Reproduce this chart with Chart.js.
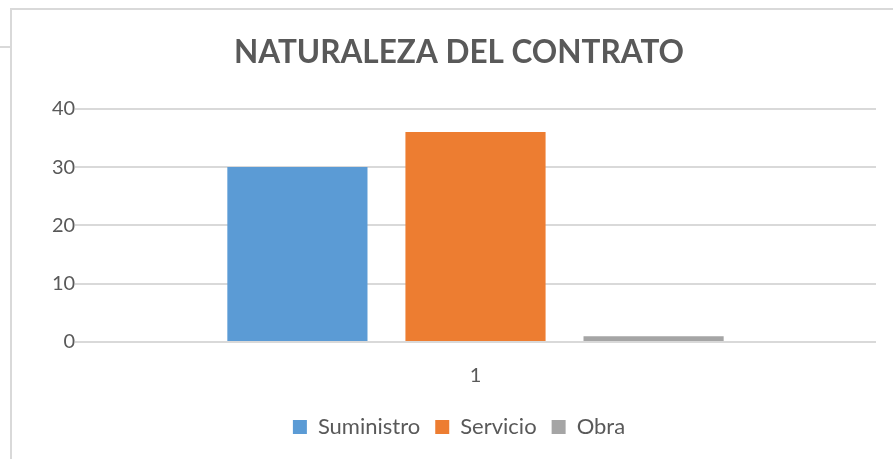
<!DOCTYPE html>
<html>
<head>
<meta charset="utf-8">
<script src="https://cdn.jsdelivr.net/npm/chart.js@4"></script>
<style>
  html, body { margin: 0; padding: 0; background: #fff; overflow: hidden; }
  #wrap { position: relative; width: 893px; height: 459px; }
  #frame { position: absolute; left: 10px; top: 8px; width: 900px; height: 470px; border-left: 2px solid #d9d9d9; border-top: 2px solid #d9d9d9; box-sizing: border-box; }
  #stub { position: absolute; left: 0; top: 46px; width: 11px; height: 2px; background: #d9d9d9; }
  #c { position: absolute; left: 0; top: 0; }
</style>
</head>
<body>
<div id="wrap">
  <div id="frame"></div>
  <div id="stub"></div>
  <canvas id="c" width="893" height="459"></canvas>
</div>
<script>
const categories = ["1"];
const seriesNames = ["Suministro", "Servicio", "Obra"];
const suministro = [30];
const servicio = [36];
const obra = [1];
const yTicks = [0, 10, 20, 30, 40];
const colors = ["#5b9bd5", "#ed7d31", "#a5a5a5"];
const txt = "#595959";
const fontFam = "Lato, 'Liberation Sans', sans-serif";

new Chart(document.getElementById("c"), {
  type: "bar",
  data: {
    labels: categories,
    datasets: [
      { label: seriesNames[0], data: suministro, backgroundColor: colors[0] },
      { label: seriesNames[1], data: servicio, backgroundColor: colors[1] },
      { label: seriesNames[2], data: obra, backgroundColor: colors[2] }
    ]
  },
  options: {
    responsive: false,
    animation: false,
    devicePixelRatio: 1,
    categoryPercentage: 0.667,
    barPercentage: 0.787,
    layout: { padding: { left: 42, right: 17, top: 0, bottom: 11 } },
    plugins: {
      title: {
        display: true,
        text: "NATURALEZA DEL CONTRATO",
        color: txt,
        font: { family: fontFam, size: 31.5, weight: "bold" },
        padding: { top: 34, bottom: 37 }
      },
      legend: {
        display: true,
        position: "bottom",
        labels: {
          color: txt,
          font: { family: fontFam, size: 22 },
          boxWidth: 14,
          boxHeight: 14,
          padding: 15
        }
      },
      tooltip: { enabled: false }
    },
    scales: {
      x: {
        grid: { display: false, drawTicks: false },
        border: { display: false },
        ticks: { color: txt, font: { family: fontFam, size: 20 }, padding: 22 },
        afterFit: s => { s.height = 59; }
      },
      y: {
        min: 0,
        max: 40,
        afterBuildTicks: s => { s.ticks = yTicks.map(v => ({ value: v })); },
        grid: { color: "#d9d9d9", lineWidth: 2, drawTicks: false },
        border: { display: false },
        ticks: {
          color: txt, font: { family: fontFam, size: 20 },
          mirror: true, crossAlign: "far",
          padding: -23
        },
        afterFit: s => { s.width = 33; }
      }
    }
  }
});
</script>
</body>
</html>
